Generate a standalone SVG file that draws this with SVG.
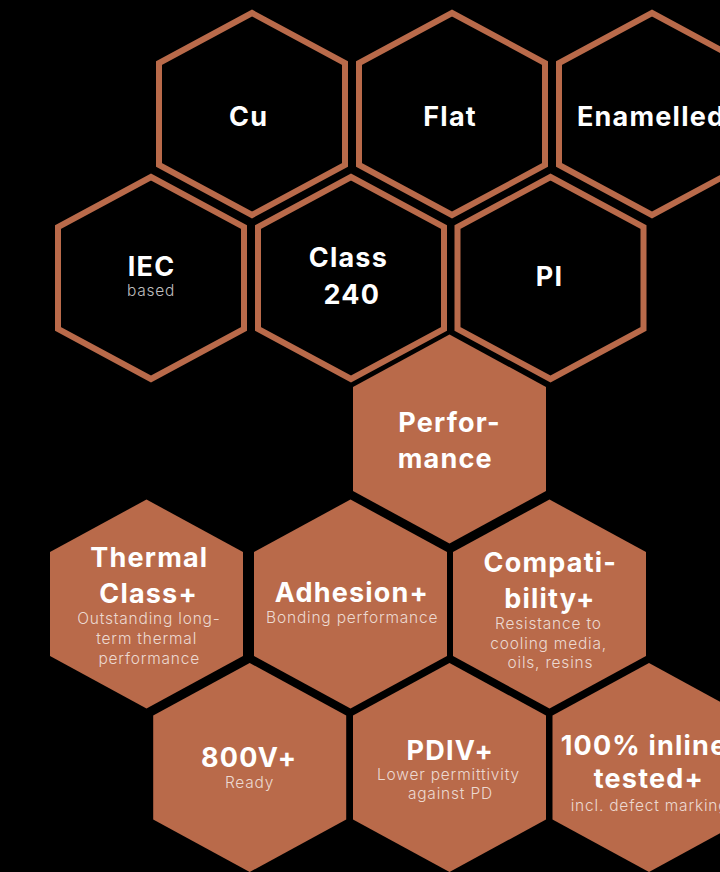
<svg xmlns="http://www.w3.org/2000/svg" xmlns:xlink="http://www.w3.org/1999/xlink" width="720" height="872" viewBox="0 0 720 872">
<defs>
<polygon id="hexO" points="0,-101 93,-51 93,51 0,101 -93,51 -93,-51"/>
<polygon id="hexF" points="0,-104.5 96.5,-52 96.5,52 0,104.5 -96.5,52 -96.5,-52"/>
<style>
.o{fill:#000;stroke:#B96A4A;stroke-width:6;stroke-linejoin:miter}
.f{fill:#B96A4A;stroke:none}
.t{font-family:Inter,"Liberation Sans",sans-serif;font-weight:700;font-size:27px;letter-spacing:1.2px;fill:#fff;text-anchor:middle}
.s{font-family:Inter,"Liberation Sans",sans-serif;font-weight:300;font-size:15.5px;letter-spacing:0.8px;fill:#fff;fill-opacity:0.75;text-anchor:middle}
.st{text-anchor:start}
</style>
</defs>
<rect width="720" height="872" fill="#000"/>
<g id="connectors"/>
<g id="cu"><use href="#hexO" class="o" x="252" y="114"/><text class="t" x="248.6" y="126">Cu</text></g>
<g id="flat"><use href="#hexO" class="o" x="452" y="114"/><text class="t" x="450.1" y="126">Flat</text></g>
<g id="enamelled"><use href="#hexO" class="o" x="652" y="114"/><text class="t st" x="577" y="126">Enamelled</text></g>
<g id="iec"><use href="#hexO" class="o" x="151" y="278"/><text class="t" x="151.6" y="276">IEC</text><text class="s" x="151.1" y="295.7">based</text></g>
<g id="class240"><use href="#hexO" class="o" x="351" y="278"/><text class="t" x="348.4" y="267.3">Class</text><text class="t" x="351.9" y="304">240</text></g>
<g id="pi"><use href="#hexO" class="o" x="550.5" y="278"/><text class="t" x="549.6" y="285.7">PI</text></g>
<g id="performance"><use href="#hexF" class="f" x="449.5" y="439"/><text class="t" x="449.6" y="432.3">Perfor-</text><text class="t" x="445.3" y="468.3">mance</text></g>
<g id="thermal"><use href="#hexF" class="f" x="146.5" y="604"/><text class="t" x="149.3" y="567.3">Thermal</text><text class="t" x="148.6" y="602.7">Class+</text><text class="s" x="148.9" y="624">Outstanding long-</text><text class="s" x="146.7" y="644.3">term thermal</text><text class="s" x="149.2" y="664">performance</text></g>
<g id="adhesion"><use href="#hexF" class="f" x="350.5" y="604"/><text class="t" x="351.9" y="601.7">Adhesion+</text><text class="s" x="352.2" y="622.7">Bonding performance</text></g>
<g id="compatibility"><use href="#hexF" class="f" x="549.5" y="604"/><text class="t" x="550.3" y="571.7">Compati-</text><text class="t" x="549.9" y="608.3">bility+</text><text class="s" x="548.4" y="629">Resistance to</text><text class="s" x="548.7" y="649">cooling media,</text><text class="s" x="550.4" y="668.3">oils, resins</text></g>
<g id="v800"><use href="#hexF" class="f" x="249.7" y="767.5"/><text class="t" x="249.1" y="767.3">800V+</text><text class="s" x="249.6" y="787.7">Ready</text></g>
<g id="pdiv"><use href="#hexF" class="f" x="449.5" y="767.5"/><text class="t" x="450.3" y="760">PDIV+</text><text class="s" x="448.4" y="780">Lower permittivity</text><text class="s" x="450.4" y="799">against PD</text></g>
<g id="inline"><use href="#hexF" class="f" x="649" y="767.5"/><text class="t st" x="560.7" y="755">100% inline</text><text class="t" x="648.9" y="788.3">tested+</text><text class="s st" x="570.7" y="811.3">incl. defect marking</text></g>
</svg>
